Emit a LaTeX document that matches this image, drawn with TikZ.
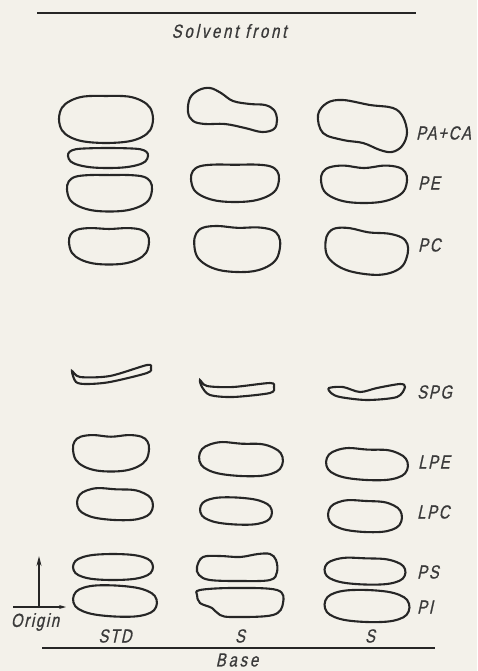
\documentclass[tikz,border=0pt]{standalone}
\usepackage{fontspec}
\setmainfont{Liberation Sans}
\newfontfamily\lettering{Liberation Sans}[LetterSpace=9,FakeStretch=0.78,FakeSlant=0.22,FakeBold=0.8]
\usetikzlibrary{arrows.meta}
\definecolor{paper}{HTML}{F3F1EA}
\definecolor{ink}{HTML}{262626}
\definecolor{txt}{HTML}{3A3A3A}
\tikzset{
  spotline/.style={draw=ink,line width=2.1pt},
  rule/.style={draw=ink,line width=1.7pt},
  lbl/.style={text=txt,font=\lettering\fontsize{19}{21}\selectfont,inner sep=0pt},
  widelbl/.style={lbl,font=\lettering\fontsize{19}{21}\selectfont\addfontfeature{LetterSpace=15}},
  vaxis/.style={draw=ink,line width=1.1pt,-{Stealth[length=10pt,width=5pt]}},
  haxis/.style={draw=ink,line width=1.1pt,-{Stealth[length=7pt,width=4pt]}}
}
% rounded (superellipse) spot: cx, cy, half-width, half-height, top dip, rotation
\newcommand\spot[6]{\draw[spotline,shift={(#1,#2)},rotate=#6,xscale=#3,yscale=#4]
  plot[smooth cycle,tension=0.6] coordinates {(-1,0) (-0.939,-0.464) (-0.758,-0.758) (-0.464,-0.939) (0,{-1+#5}) (0.464,-0.939) (0.758,-0.758) (0.939,-0.464) (1,0) (0.939,0.464) (0.758,0.758) (0.464,0.939) (0,1) (-0.464,0.939) (-0.758,0.758) (-0.939,0.464)};}
% D-shaped spot: flat top, rounder bottom
\newcommand\dspot[6]{\draw[spotline,shift={(#1,#2)},rotate=#6,xscale=#3,yscale=#4]
  plot[smooth cycle,tension=0.6] coordinates {(-1,-0.2) (-0.96,-0.62) (-0.8,-0.88) (-0.464,-0.97) (0,{-1+#5}) (0.464,-0.97) (0.8,-0.88) (0.96,-0.62) (1,-0.2) (0.93,0.36) (0.72,0.72) (0.4,0.94) (0,1) (-0.4,0.94) (-0.72,0.72) (-0.93,0.36)};}
\begin{document}
\begin{tikzpicture}[x=1pt,y=-1pt]
\fill[paper] (0,0) rectangle (477,671);
\useasboundingbox (0,0) rectangle (477,671);
% solvent front and base
\coordinate (sf1) at (37,13); \coordinate (sf2) at (416,13);
\draw[rule] (sf1) -- (sf2);
\node[widelbl] (sf) at (229,31) {Solvent front};
\coordinate (b1) at (42,648); \coordinate (b2) at (435,648);
\draw[rule] (b1) -- (b2);
\node[widelbl] (base) at (237,660) {Base};
% column 1 (STD)
\spot{106}{119}{47}{24}{0.04}{0}
\dspot{108}{158}{40}{10}{0}{0}
\dspot{109.5}{193}{42.5}{18.5}{0.03}{0}
\dspot{109}{246}{40}{18.5}{0.08}{0}
\draw[spotline] plot[smooth cycle,tension=0.5] coordinates {(72,371) (80,377) (110,376) (147,365) (151,368) (147,373) (110,382) (87,384) (76,382)};
\dspot{111}{453}{38}{18.5}{0.12}{0}
\spot{115}{504}{38}{16}{0.08}{-3}
\spot{113}{567}{40}{13}{0}{0}
\spot{115}{601}{42}{15.5}{0}{-3}
% column 2
\draw[spotline] plot[smooth cycle,tension=0.6] coordinates {(188,112) (190,98) (199,90) (210,88) (221,93) (233,101) (250,104) (265,105) (274,110) (277,120) (274,129) (262,132) (245,128) (225,124) (205,124) (193,121)};
\dspot{235}{183}{44}{19}{0.04}{0}
\dspot{237}{249}{43}{23}{0.08}{-2}
\draw[spotline] plot[smooth cycle,tension=0.5] coordinates {(200,380) (207,386) (233,387) (270,383) (274,387) (270,393) (233,397) (210,395) (202,387)};
\spot{241}{459}{42}{17}{0.1}{-3}
\spot{236}{511}{36}{13.5}{0}{-3}
\draw[spotline] plot[smooth cycle,tension=0.6] coordinates {(197,567) (203,557) (220,556) (240,557) (258,554) (270,554) (276,560) (277,572) (270,580) (240,581) (210,580) (199,575)};
\draw[spotline] plot[smooth cycle,tension=0.6] coordinates {(200,590) (233,588) (277,590) (283,603) (273,615) (233,617) (220,615) (212,608) (200,603) (197,595)};
% column 3
\draw[spotline] plot[smooth cycle,tension=0.6] coordinates {(318,115) (327,103) (343,100) (370,105) (393,108) (403,117) (407,133) (402,146) (392,152) (380,150) (363,143) (343,140) (323,133)};
\dspot{364}{184}{43}{19}{0.16}{0}
\dspot{366}{252}{41.5}{22}{0.1}{-8}
\draw[spotline] plot[smooth cycle,tension=0.5] coordinates {(329,388) (343,387) (360,392) (377,388) (400,384) (405,387) (397,397) (367,400) (340,397) (331,393)};
\spot{367}{464}{41}{16}{0.1}{-3}
\spot{365}{516}{37}{16}{0.06}{-3}
\spot{365}{571}{40.5}{13.5}{0.06}{-2}
\spot{367}{606}{42.5}{16}{0}{-2}
% right labels
\node[lbl,anchor=west] (l1) at (416,133) {PA+CA};
\node[lbl,anchor=west] (l2) at (418,183) {PE};
\node[lbl,anchor=west] (l3) at (418,245) {PC};
\node[lbl,anchor=west] (l4) at (417,392) {SPG};
\node[lbl,anchor=west] (l5) at (418,462) {LPE};
\node[lbl,anchor=west] (l6) at (417,512) {LPC};
\node[lbl,anchor=west] (l7) at (417,572) {PS};
\node[lbl,anchor=west] (l8) at (417,607) {PI};
% bottom labels
\node[lbl] (std) at (115,636) {STD};
\node[lbl] (s1) at (240,636) {S};
\node[lbl] (s2) at (370,636) {S};
\node[lbl] (orig) at (35,622) {Origin};
% axes
\coordinate (h0) at (13,607); \coordinate (h1) at (66,607);
\coordinate (v0) at (39,608); \coordinate (v1) at (39,556);
\draw[haxis] (h0) -- (h1);
\draw[vaxis] (v0) -- (v1);
\end{tikzpicture}
\end{document}
